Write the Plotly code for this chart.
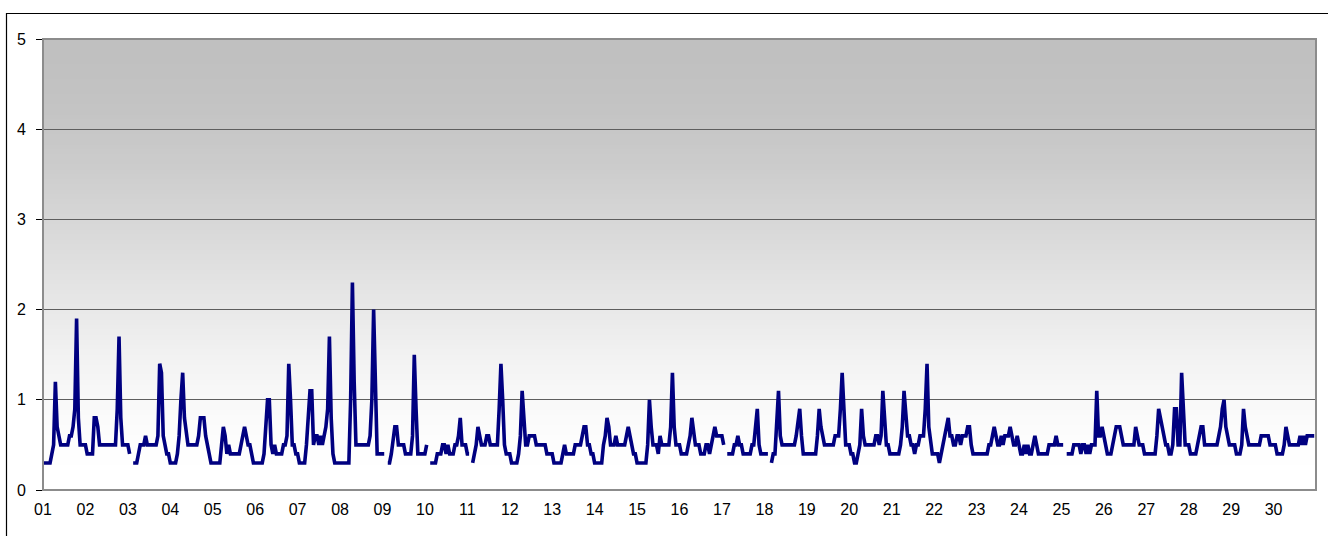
import plotly.graph_objects as go

N = None
day_labels = ["%02d" % d for d in range(1, 31)]

d01 = [0.3,0.3,0.3,0.3,0.3,0.4,0.5,1.2,0.7,0.6,0.5,0.5,0.5,0.5,0.5,0.6,0.6,0.7,0.9,1.9,0.8,0.5,0.5,0.5]
d02 = [0.5,0.4,0.4,0.4,0.4,0.8,0.8,0.7,0.5,0.5,0.5,0.5,0.5,0.5,0.5,0.5,0.5,0.5,0.9,1.7,0.8,0.5,0.5,0.5]
d03 = [0.5,0.4,N,0.3,0.3,0.3,0.4,0.5,0.5,0.5,0.6,0.5,0.5,0.5,0.5,0.5,0.5,0.6,1.4,1.3,0.6,0.5,0.4,0.4]
d04 = [0.3,0.3,0.3,0.3,0.4,0.6,1.0,1.3,0.8,0.6,0.5,0.5,0.5,0.5,0.5,0.5,0.6,0.8,0.8,0.8,0.6,0.5,0.4,0.3]
d05 = [0.3,0.3,0.3,0.3,0.3,0.5,0.7,0.6,0.4,0.5,0.4,0.4,0.4,0.4,0.4,0.4,0.5,0.6,0.7,0.6,0.5,0.5,0.4,0.3]
d06 = [0.3,0.3,0.3,0.3,0.3,0.4,0.7,1.0,1.0,0.5,0.4,0.5,0.4,0.4,0.4,0.4,0.5,0.5,0.6,1.4,1.0,0.5,0.5,0.4]
d07 = [0.4,0.3,0.3,0.3,0.3,0.5,0.8,1.1,1.1,0.5,0.6,0.6,0.5,0.6,0.5,0.6,0.7,0.9,1.7,0.8,0.4,0.3,0.3,0.3]
d08 = [0.3,0.3,0.3,0.3,0.3,0.3,1.0,2.3,1.2,0.5,0.5,0.5,0.5,0.5,0.5,0.5,0.5,0.6,1.0,2.0,1.0,0.4,0.4,0.4]
d09 = [0.4,0.4,N,0.3,0.3,0.4,0.6,0.7,0.7,0.5,0.5,0.5,0.5,0.4,0.4,0.4,0.4,0.6,1.5,0.9,0.4,0.4,0.4,0.4]
d10 = [0.4,0.5,N,0.3,0.3,0.3,0.3,0.4,0.4,0.4,0.5,0.5,0.4,0.5,0.4,0.4,0.4,0.5,0.5,0.6,0.8,0.5,0.5,0.5]
d11 = [0.4,0.4,N,0.3,0.4,0.5,0.7,0.6,0.5,0.5,0.5,0.6,0.6,0.5,0.5,0.5,0.5,0.5,0.9,1.4,1.0,0.5,0.4,0.4]
d12 = [0.4,0.3,0.3,0.3,0.3,0.4,0.6,1.1,0.7,0.5,0.5,0.6,0.6,0.6,0.6,0.5,0.5,0.5,0.5,0.5,0.5,0.4,0.4,0.4]
d13 = [0.4,0.3,0.3,0.3,0.3,0.3,0.4,0.5,0.4,0.4,0.4,0.4,0.4,0.5,0.5,0.5,0.5,0.6,0.7,0.7,0.5,0.5,0.4,0.4]
d14 = [0.3,0.3,0.3,0.3,0.3,0.5,0.6,0.8,0.7,0.5,0.5,0.5,0.6,0.5,0.5,0.5,0.5,0.5,0.6,0.7,0.6,0.5,0.4,0.4]
d15 = [0.3,0.3,0.3,0.3,0.3,0.3,0.5,1.0,0.7,0.5,0.5,0.5,0.4,0.6,0.5,0.5,0.5,0.5,0.5,0.7,1.3,0.7,0.5,0.5]
d16 = [0.5,0.4,0.4,0.4,0.4,0.5,0.6,0.8,0.6,0.5,0.5,0.5,0.4,0.4,0.4,0.5,0.5,0.4,0.5,0.6,0.7,0.6,0.6,0.6]
d17 = [0.6,0.5,N,0.4,0.4,0.4,0.4,0.5,0.5,0.6,0.5,0.5,0.4,0.4,0.4,0.4,0.4,0.5,0.5,0.7,0.9,0.5,0.4,0.4]
d18 = [0.4,0.4,0.4,N,0.3,0.4,0.4,0.7,1.1,0.6,0.5,0.5,0.5,0.5,0.5,0.5,0.5,0.5,0.6,0.75,0.9,0.6,0.4,0.4]
d19 = [0.4,0.4,0.4,0.4,0.4,0.4,0.6,0.9,0.7,0.6,0.5,0.5,0.5,0.5,0.5,0.5,0.6,0.6,0.6,0.9,1.3,0.9,0.5,0.5]
d20 = [0.5,0.4,0.4,0.3,0.3,0.4,0.5,0.9,0.6,0.5,0.5,0.5,0.5,0.5,0.5,0.6,0.6,0.5,0.6,1.1,0.7,0.5,0.5,0.4]
d21 = [0.4,0.4,0.4,0.4,0.4,0.5,0.7,1.1,0.8,0.6,0.6,0.5,0.5,0.4,0.5,0.5,0.6,0.6,0.6,0.9,1.4,0.7,0.5,0.4]
d22 = [0.4,0.4,0.4,0.3,0.4,0.5,0.6,0.7,0.8,0.6,0.6,0.5,0.5,0.6,0.6,0.5,0.6,0.6,0.6,0.7,0.7,0.5,0.4,0.4]
d23 = [0.4,0.4,0.4,0.4,0.4,0.4,0.4,0.5,0.5,0.6,0.7,0.6,0.5,0.5,0.6,0.5,0.6,0.6,0.6,0.7,0.6,0.5,0.5,0.6]
d24 = [0.5,0.4,0.4,0.5,0.4,0.5,0.4,0.4,0.5,0.6,0.5,0.4,0.4,0.4,0.4,0.4,0.4,0.5,0.5,0.5,0.5,0.6,0.5,0.5]
d25 = [0.5,0.5,N,0.4,0.4,0.4,0.4,0.5,0.5,0.5,0.5,0.4,0.5,0.5,0.4,0.5,0.4,0.5,0.5,0.5,1.1,0.6,0.6,0.7]
d26 = [0.6,0.5,0.4,0.4,0.4,0.5,0.6,0.7,0.7,0.7,0.6,0.5,0.5,0.5,0.5,0.5,0.5,0.5,0.7,0.6,0.5,0.5,0.5,0.4]
d27 = [0.4,0.4,0.4,0.4,0.4,0.4,0.6,0.9,0.8,0.7,0.6,0.5,0.5,0.4,0.4,0.5,0.9,0.9,0.5,0.5,1.3,0.8,0.5,0.5]
d28 = [0.5,0.4,0.4,0.4,0.4,0.5,0.6,0.7,0.7,0.5,0.5,0.5,0.5,0.5,0.5,0.5,0.5,0.6,0.7,0.9,1.0,0.7,0.6,0.5]
d29 = [0.5,0.5,0.5,0.4,0.4,0.4,0.5,0.9,0.7,0.6,0.5,0.5,0.5,0.5,0.5,0.5,0.5,0.6,0.6,0.6,0.6,0.6,0.5,0.5]
d30 = [0.5,0.5,0.4,0.4,0.4,0.4,0.5,0.7,0.6,0.5,0.5,0.5,0.5,0.5,0.5,0.6,0.5,0.6,0.5,0.6,0.6,0.6,0.6,0.6]

days = [d01, d02, d03, d04, d05, d06, d07, d08, d09, d10, d11, d12, d13, d14, d15,
        d16, d17, d18, d19, d20, d21, d22, d23, d24, d25, d26, d27, d28, d29, d30]

y_vals = []
x_vals = []
for di, day in enumerate(days):
    for h, v in enumerate(day):
        x_vals.append(di + h / 24.0)
        y_vals.append(v)

fig = go.Figure()
fig.add_trace(go.Scatter(
    x=x_vals, y=y_vals, mode="lines",
    line=dict(color="#000080", width=3.6),
    connectgaps=False, hoverinfo="skip",
))

shapes = []
# gradient background (smoothstep from white at bottom to #c0c0c0 at top)
n = 90
for i in range(n):
    t = (i + 0.5) / n
    f = 3 * t * t - 2 * t ** 3
    g = int(round(255 - 63 * f))
    col = "rgb(%d,%d,%d)" % (g, g, g)
    shapes.append(dict(type="rect", xref="x domain", yref="y domain",
                       x0=0, x1=1, y0=i / n, y1=(i + 1) / n + 0.002,
                       fillcolor=col, line=dict(width=0), layer="below"))
# plot border
shapes.append(dict(type="rect", xref="paper", yref="paper", x0=0, x1=1, y0=0, y1=1,
                   line=dict(color="#8c8c8c", width=2), fillcolor="rgba(0,0,0,0)", layer="above"))
# outer chart frame
shapes.append(dict(type="rect", xref="paper", yref="paper",
                   x0=(6.5 - 43) / 1273, x1=1.05, y0=-0.3, y1=(490 - 13.5) / 451,
                   line=dict(color="#000000", width=1.2), fillcolor="rgba(0,0,0,0)", layer="above"))

tick_font = dict(family="Liberation Sans, Arial, sans-serif", size=16, color="black")

fig.update_layout(
    width=1328, height=536,
    margin=dict(l=43, r=12, t=39, b=46),
    paper_bgcolor="white", plot_bgcolor="white",
    showlegend=False,
    shapes=shapes,
    font=tick_font,
    xaxis=dict(range=[0, 30], tickmode="array", tickvals=list(range(30)), ticktext=day_labels,
               tickfont=tick_font,
               showgrid=False, zeroline=False, showline=False, ticks="",
               ticklabelstandoff=8, fixedrange=True),
    yaxis=dict(range=[0, 5], dtick=1, tick0=0, showgrid=True, gridcolor="#5e5e5e", gridwidth=1,
               tickfont=tick_font,
               zeroline=False, showline=True, linecolor="black", linewidth=1,
               ticks="outside", ticklen=6, tickcolor="black", ticklabelstandoff=7,
               fixedrange=True),
)

fig.write_html("out.html", config={"displayModeBar": False},
               post_script="document.body.style.margin='0px';document.body.style.padding='0px';")
